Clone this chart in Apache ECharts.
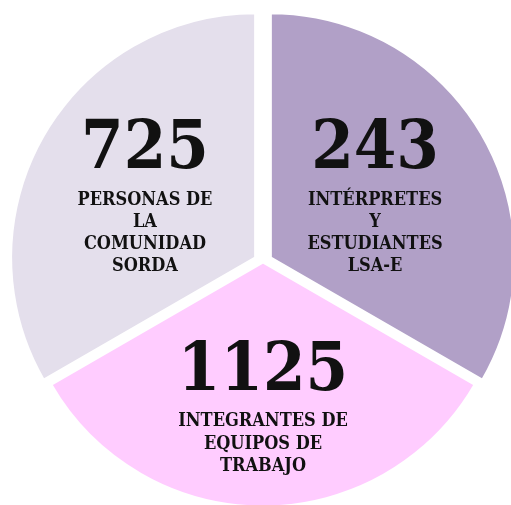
<!DOCTYPE html>
<html>
<head>
<meta charset="utf-8">
<style>
  html, body { margin: 0; padding: 0; background: #ffffff; }
  #chart { width: 511px; height: 505px; }
</style>
<script src="https://cdn.jsdelivr.net/npm/echarts@6/dist/echarts.min.js"></script>
</head>
<body>
<div id="chart"></div>
<script>
// clockwise from 12 o'clock: right, bottom, left
var counts = [243, 1125, 725];
var groups = [
  ['INTÉRPRETES', 'Y', 'ESTUDIANTES', 'LSA-E'],
  ['INTEGRANTES DE', 'EQUIPOS DE', 'TRABAJO'],
  ['PERSONAS DE', 'LA', 'COMUNIDAD', 'SORDA']
];
// the slices are drawn as equal thirds in the original
var shares = [1, 1, 1];
var colors = ['#b1a0c7', '#ffccff', '#e4dfec'];
var exploded = [true, false, true];

(function() {
  var chart = echarts.init(document.getElementById('chart'), null, { renderer: 'canvas' });
  var font = '"DejaVu Serif Condensed", "DejaVu Serif", serif';
  // small nudges of the inside labels
  var nudges = [[-9, -10], [0, 18], [-7, -10]];
  var shiftX = [-4, 0, -2];

  var data = shares.map(function(v, i) {
    return {
      value: v,
      name: groups[i].join(' '),
      selected: exploded[i],
      itemStyle: { color: colors[i] },
      label: {
        formatter: '{num|' + counts[i] + '}\n' +
          groups[i].map(function(t) { return '{txt|' + t + '}'; }).join('\n'),
        offset: nudges[i]
      }
    };
  });

  chart.setOption({
    animation: false,
    series: [{
      type: 'pie',
      center: [263, 262],
      radius: 245,
      startAngle: 90,
      clockwise: true,
      selectedMode: 'multiple',
      selectedOffset: 8.5,
      silent: true,
      itemStyle: { borderColor: '#ffffff', borderWidth: 3 },
      label: {
        show: true,
        position: 'inside',
        align: 'center',
        rich: {
          num: {
            fontFamily: font, fontWeight: 'bold', fontSize: 68,
            color: '#111111', lineHeight: 77, align: 'center'
          },
          txt: {
            fontFamily: font, fontWeight: 'bold', fontSize: 18,
            color: '#111111', lineHeight: 22.2, align: 'center'
          }
        }
      },
      labelLayout: function(p) {
        return { dx: shiftX[p.dataIndex] };
      },
      labelLine: { show: false },
      emphasis: { disabled: true },
      data: data
    }]
  });

  window.addEventListener('resize', function() { chart.resize(); });
})();
</script>
</body>
</html>
